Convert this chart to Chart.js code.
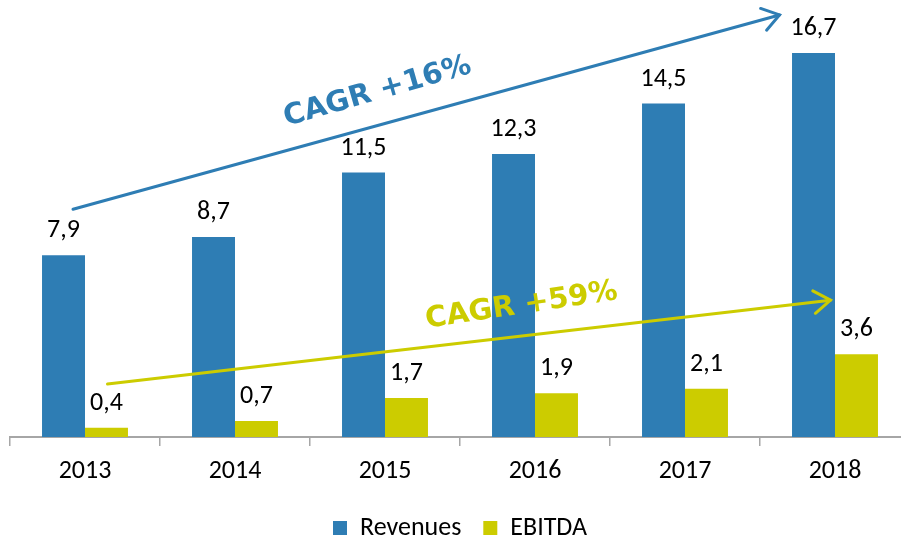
<!DOCTYPE html>
<html>
<head>
<meta charset="utf-8">
<script src="https://cdn.jsdelivr.net/npm/chart.js@4.4.1/dist/chart.umd.min.js"></script>
<style>
  html, body { margin: 0; padding: 0; overflow: hidden; background: #fff; }
  #wrap { width: 920px; height: 551px; }
</style>
</head>
<body>
<div id="wrap"><canvas id="myChart"></canvas></div>
<script>
const years = ["2013", "2014", "2015", "2016", "2017", "2018"];
const revenues = [7.9, 8.7, 11.5, 12.3, 14.5, 16.7];
const ebitda = [0.4, 0.7, 1.7, 1.9, 2.1, 3.6];
const seriesNames = ["Revenues", "EBITDA"];
const cagrLabels = ["CAGR +16%", "CAGR +59%"];

// arrow ends and text centres as [category index, value]
const revArrow = [[-0.08, 9.9], [4.63, 18.35]];
const ebitdaArrow = [[0.15, 2.3], [4.97, 5.95]];
const revText = [1.95, 15.0];
const ebitdaText = [2.91, 5.7];

const BLUE = "#2E7DB4";
const YELLOW = "#CCCC00";
const FONT = "Carlito, Calibri, Lato, sans-serif";

const valueLabels = {
  id: "valueLabels",
  afterDatasetsDraw(chart) {
    const ctx = chart.ctx;
    ctx.save();
    ctx.font = "26px " + FONT;
    ctx.fillStyle = "#000";
    ctx.textAlign = "center";
    ctx.textBaseline = "alphabetic";
    chart.data.datasets.forEach((ds, i) => {
      chart.getDatasetMeta(i).data.forEach((bar, j) => {
        const txt = ds.data[j].toFixed(1).replace(".", ",");
        ctx.fillText(txt, bar.x, bar.y - 18);
      });
    });
    ctx.restore();
  },
};

function drawArrow(ctx, x1, y1, x2, y2, color) {
  const a = Math.atan2(y2 - y1, x2 - x1);
  ctx.strokeStyle = color;
  ctx.lineWidth = 3;
  ctx.lineCap = "round";
  ctx.beginPath();
  ctx.moveTo(x1, y1);
  ctx.lineTo(x2, y2);
  ctx.stroke();
  const len = 20, spread = 0.6;
  ctx.beginPath();
  ctx.moveTo(x2 - len * Math.cos(a - spread), y2 - len * Math.sin(a - spread));
  ctx.lineTo(x2, y2);
  ctx.lineTo(x2 - len * Math.cos(a + spread), y2 - len * Math.sin(a + spread));
  ctx.stroke();
}

function drawTilted(ctx, txt, x, y, deg, color) {
  ctx.save();
  ctx.translate(x, y);
  ctx.rotate(deg * Math.PI / 180);
  ctx.font = "bold 29px 'DejaVu Sans', sans-serif";
  ctx.fillStyle = color;
  ctx.textAlign = "center";
  ctx.textBaseline = "middle";
  ctx.fillText(txt, 0, 0);
  ctx.restore();
}

const cagrArrows = {
  id: "cagrArrows",
  afterDatasetsDraw(chart) {
    const ctx = chart.ctx;
    const xs = chart.scales.x, ys = chart.scales.y;
    const px = (p) => [xs.getPixelForValue(p[0]), ys.getPixelForValue(p[1])];
    ctx.save();
    let s = px(revArrow[0]), e = px(revArrow[1]);
    drawArrow(ctx, s[0], s[1], e[0], e[1], BLUE);
    s = px(ebitdaArrow[0]); e = px(ebitdaArrow[1]);
    drawArrow(ctx, s[0], s[1], e[0], e[1], YELLOW);
    let t = px(revText);
    drawTilted(ctx, cagrLabels[0], t[0], t[1], -16, BLUE);
    t = px(ebitdaText);
    drawTilted(ctx, cagrLabels[1], t[0], t[1], -8.5, YELLOW);
    ctx.restore();
  },
};

const ctx = document.getElementById("myChart");
new Chart(ctx, {
  type: "bar",
  data: {
    labels: years,
    datasets: [
      { label: seriesNames[0], data: revenues, backgroundColor: BLUE, borderWidth: 0 },
      { label: seriesNames[1], data: ebitda, backgroundColor: YELLOW, borderWidth: 0 },
    ],
  },
  options: {
    responsive: true,
    maintainAspectRatio: false,
    animation: false,
    layout: { padding: { left: 10, right: 10, top: 0, bottom: 0 } },
    datasets: { bar: { categoryPercentage: 0.573, barPercentage: 1.0 } },
    scales: {
      x: {
        afterFit: (s) => { s.height = 56; },
        grid: { offset: true, drawOnChartArea: false, tickLength: 9, color: "#A6A6A6", lineWidth: 1.5 },
        border: { color: "#A6A6A6", width: 2 },
        ticks: { color: "#000", font: { family: FONT, size: 26 }, padding: 10 },
      },
      y: { display: false, min: 0, max: 19 },
    },
    plugins: {
      legend: {
        position: "bottom",
        labels: { color: "#000", font: { family: FONT, size: 26 }, boxWidth: 14, boxHeight: 14, padding: 22 },
      },
      tooltip: { enabled: false },
    },
  },
  plugins: [valueLabels, cagrArrows],
});
</script>
</body>
</html>
